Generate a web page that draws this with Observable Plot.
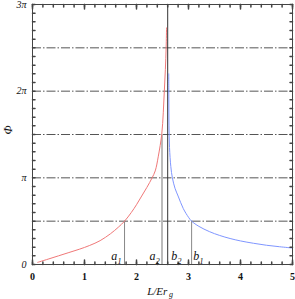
<!DOCTYPE html>
<html>
<head>
<meta charset="utf-8">
<script src="https://cdn.jsdelivr.net/npm/d3@7"></script>
<script src="https://cdn.jsdelivr.net/npm/@observablehq/plot@0.6"></script>
<style>
  html, body { margin: 0; padding: 0; background: #fff; }
  svg { display: block; }
</style>
</head>
<body>
<script>
const PI = Math.PI;

// Red branch: L/Erg and Φ/π
const redX   = [0.1, 0.3, 0.5, 0.7, 0.9, 1.1, 1.3, 1.5, 1.65, 1.77, 1.9, 2.0, 2.1, 2.2, 2.3, 2.36, 2.42, 2.485, 2.515, 2.535, 2.555, 2.57, 2.578];
const redPhi = [0.025, 0.062, 0.1, 0.138, 0.176, 0.22, 0.275, 0.355, 0.43, 0.5, 0.6, 0.69, 0.79, 0.89, 1.0, 1.08, 1.25, 1.5, 1.75, 2.0, 2.25, 2.5, 2.73];

// Blue branch
const blueX   = [2.62, 2.622, 2.625, 2.635, 2.66, 2.69, 2.74, 2.8, 2.9, 3.0, 3.06, 3.2, 3.4, 3.6, 3.8, 4.0, 4.25, 4.5, 4.75, 5.0];
const bluePhi = [2.2, 1.9, 1.6, 1.35, 1.13, 1.0, 0.88, 0.79, 0.645, 0.545, 0.5, 0.44, 0.38, 0.335, 0.3, 0.272, 0.245, 0.222, 0.205, 0.19];

// Reference levels (multiples of π) for dash-dot lines
const gridPhi = [0.5, 1, 1.5, 2, 2.5];

// Marker lines
const markNames = ["a1", "a2", "b2", "b1"];
const markX     = [1.77, 2.49, 2.60, 3.06];
const markTop   = [0.5, 1.5, 3, 0.5];
const labelMain = ["a", "a", "b", "b"];
const labelSub  = ["1", "2", "2", "1"];
const labelX    = [1.516, 2.249, 2.667, 3.09];

// Ticks
const xMajorTicks = [0, 1, 2, 3, 4, 5];
const xTickLabels = ["0", "1", "2", "3", "4", "5"];
const xMinorTicks = [0, 0.2, 0.4, 0.6, 0.8, 1, 1.2, 1.4, 1.6, 1.8, 2, 2.2, 2.4, 2.6, 2.8, 3, 3.2, 3.4, 3.6, 3.8, 4, 4.2, 4.4, 4.6, 4.8, 5];
const yMinorTicks = d3.range(0, 31).map(i => i / 10); // in units of π
const yTickPhi    = [0, 1, 2, 3];
const yTickLabels = ["0", "π", "2π", "3π"];

const red  = redX.map((x, i) => ({x, phi: redPhi[i] * PI}));
const blue = blueX.map((x, i) => ({x, phi: bluePhi[i] * PI}));
const marks = markNames.map((n, i) => ({n, x: markX[i], top: markTop[i] * PI, lx: labelX[i], main: labelMain[i], sub: labelSub[i]}));

const tickShape = { draw(context, l) { context.moveTo(0, 0); context.lineTo(0, -l); } };
const tickColor = "#444";

const chart = Plot.plot({
  width: 295,
  height: 299,
  marginLeft: 32,
  marginRight: 3,
  marginTop: 4,
  marginBottom: 35,
  x: { domain: [0, 5], axis: null },
  y: { domain: [0, 3 * PI], axis: null },
  style: { background: "white", fontFamily: "'Liberation Serif', serif", overflow: "visible" },
  marks: [
    // dash-dot reference lines
    Plot.ruleY(gridPhi.map(v => v * PI), { stroke: "#555", strokeWidth: 1, strokeDasharray: "9,2,1.5,2" }),
    // marker lines
    Plot.ruleX([marks[0]], { x: "x", y1: 0, y2: "top", stroke: "#888", strokeWidth: 1 }),
    Plot.ruleX([marks[1]], { x: "x", y1: 0, y2: "top", stroke: "#bbb", strokeWidth: 2 }),
    Plot.ruleX([marks[2]], { x: "x", y1: 0, y2: "top", stroke: "#333", strokeWidth: 1 }),
    Plot.ruleX([marks[3]], { x: "x", y1: 0, y2: "top", stroke: "#888", strokeWidth: 1 }),
    // curves
    Plot.line(red,  { x: "x", y: "phi", stroke: "#f07878", strokeWidth: 1, curve: "catmull-rom" }),
    Plot.line(blue, { x: "x", y: "phi", stroke: "#7f96ff", strokeWidth: 1, curve: "catmull-rom" }),
    // frame
    Plot.frame({ stroke: tickColor, strokeWidth: 1 }),
    // bottom & top ticks (inward)
    Plot.vector(xMinorTicks, { x: d => d, y: 0, length: 2.5, rotate: 0, anchor: "start", shape: tickShape, stroke: tickColor }),
    Plot.vector(xMinorTicks, { x: d => d, y: 3 * PI, length: 2.5, rotate: 180, anchor: "start", shape: tickShape, stroke: tickColor }),
    Plot.vector(xMajorTicks, { x: d => d, y: 0, length: 4.5, rotate: 0, anchor: "start", shape: tickShape, stroke: tickColor }),
    Plot.vector(xMajorTicks, { x: d => d, y: 3 * PI, length: 4.5, rotate: 180, anchor: "start", shape: tickShape, stroke: tickColor }),
    // left & right ticks (inward)
    Plot.vector(yMinorTicks, { x: 0, y: d => d * PI, length: 2.5, rotate: 90, anchor: "start", shape: tickShape, stroke: tickColor }),
    Plot.vector(yMinorTicks, { x: 5, y: d => d * PI, length: 2.5, rotate: -90, anchor: "start", shape: tickShape, stroke: tickColor }),
    // x tick labels
    Plot.text(xMajorTicks, { x: d => d, y: 0, text: (d, i) => xTickLabels[i], dy: 12, fontSize: 10, fontWeight: "bold", fill: "#111" }),
    // y tick labels
    Plot.text(yTickPhi, { x: 0, y: d => d * PI, text: (d, i) => yTickLabels[i], dx: -6, textAnchor: "end", fontSize: 10, fontStyle: "italic", fill: "#111" }),
    // marker labels
    Plot.text(marks, { x: "lx", y: 0, text: "main", textAnchor: "start", lineAnchor: "bottom", dy: -5, fontSize: 12, fontStyle: "italic", fill: "#111" }),
    Plot.text(marks, { x: "lx", y: 0, text: "sub", textAnchor: "start", lineAnchor: "bottom", dx: 6.2, dy: -1, fontSize: 8, fontStyle: "italic", fill: "#111" }),
    // axis titles
    Plot.text(["L/Er"], { frameAnchor: "bottom", textAnchor: "start", lineAnchor: "bottom", dx: -15.3, dy: 30.5, fontSize: 11, fontStyle: "italic", fill: "#111" }),
    Plot.text(["g"], { frameAnchor: "bottom", textAnchor: "start", lineAnchor: "bottom", dx: 6.6, dy: 32.5, fontSize: 8, fontStyle: "italic", fill: "#111" }),
    Plot.text(["Φ"], { frameAnchor: "left", dx: -24, rotate: -90, fontSize: 12, fontStyle: "italic", fill: "#111" })
  ]
});

document.body.appendChild(chart);
</script>
</body>
</html>
